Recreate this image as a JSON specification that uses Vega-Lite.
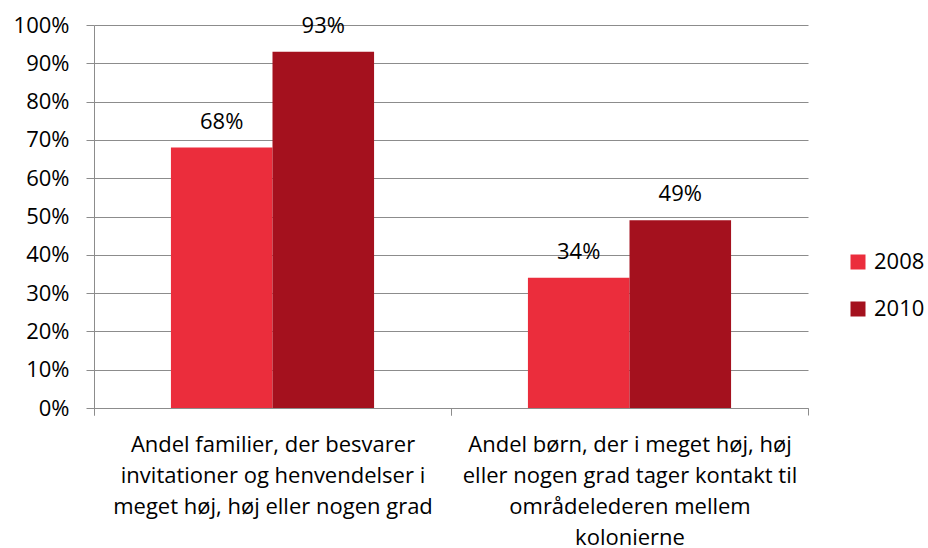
{
  "$schema": "https://vega.github.io/schema/vega-lite/v6.json",
  "width": 714,
  "height": 383,
  "autosize": "none",
  "padding": {"left": 94, "top": 25, "right": 120, "bottom": 140},
  "background": "white",
  "config": {
    "font": "Open Sans",
    "view": {"stroke": null},
    "axis": {"labelFont": "Open Sans", "labelColor": "black", "labelFontSize": 22, "domainColor": "#8c8c8c", "tickColor": "#8c8c8c", "gridColor": "#8c8c8c"},
    "axisY": {"format": ".0%", "values": [0, 0.1, 0.2, 0.3, 0.4, 0.5, 0.6, 0.7, 0.8, 0.9, 1], "tickSize": 8, "labelPadding": 17, "grid": true, "title": null},
    "legend": {"labelFont": "Open Sans", "labelFontSize": 22, "labelColor": "black"}
  },
  "datasets": {
    "bars": [
      {"cat": "Andel familier, der besvarer|invitationer og henvendelser i|meget høj, høj eller nogen grad", "year": "2008", "value": 0.68},
      {"cat": "Andel familier, der besvarer|invitationer og henvendelser i|meget høj, høj eller nogen grad", "year": "2010", "value": 0.93},
      {"cat": "Andel børn, der i meget høj, høj|eller nogen grad tager kontakt til|områdelederen mellem|kolonierne", "year": "2008", "value": 0.34},
      {"cat": "Andel børn, der i meget høj, høj|eller nogen grad tager kontakt til|områdelederen mellem|kolonierne", "year": "2010", "value": 0.49}
    ],
    "bounds": [{"p": 0}, {"p": 1}, {"p": 2}]
  },
  "layer": [
    {
      "data": {"name": "bars"},
      "encoding": {
        "x": {
          "field": "cat", "type": "nominal", "sort": null, "title": null,
          "scale": {"paddingInner": 0.431, "paddingOuter": 0.2155},
          "axis": {"labelAngle": 0, "labelExpr": "split(datum.label, '|')", "labelLineHeight": 31, "labelPadding": 19, "tickSize": 7, "tickOffset": -178.5, "labelOffset": 178.5, "labelBaseline": "top", "labelLimit": 420}
        },
        "xOffset": {"field": "year", "type": "nominal"},
        "y": {
          "field": "value", "type": "quantitative", "title": null,
          "scale": {"domain": [0, 1], "nice": false}
        }
      },
      "layer": [
        {
          "mark": {"type": "bar"},
          "encoding": {
            "color": {
              "field": "year", "type": "nominal", "title": null,
              "scale": {"domain": ["2008", "2010"], "range": ["#EB2D3C", "#A4111E"]},
              "legend": {"orient": "none", "legendX": 753, "legendY": 226, "symbolType": "square", "symbolSize": 225, "symbolStrokeWidth": 0, "rowPadding": 25, "labelOffset": 5, "padding": 0}
            }
          }
        },
        {
          "mark": {"type": "text", "baseline": "bottom", "dy": -14, "fontSize": 22, "font": "Open Sans", "color": "black"},
          "encoding": {
            "text": {"field": "value", "type": "quantitative", "format": ".0%"}
          }
        }
      ]
    },
    {
      "data": {"name": "bounds"},
      "mark": {"type": "point", "opacity": 0},
      "encoding": {
        "x": {
          "field": "p", "type": "quantitative",
          "scale": {"domain": [0, 2], "nice": false},
          "axis": {"orient": "top", "offset": -383, "title": null, "labels": false, "domain": false, "grid": false, "values": [0, 1, 2], "tickSize": -7, "tickColor": "#8c8c8c"}
        },
        "y": {"datum": 0, "type": "quantitative", "title": null}
      }
    }
  ],
  "resolve": {"scale": {"x": "independent"}, "axis": {"x": "independent"}}
}
